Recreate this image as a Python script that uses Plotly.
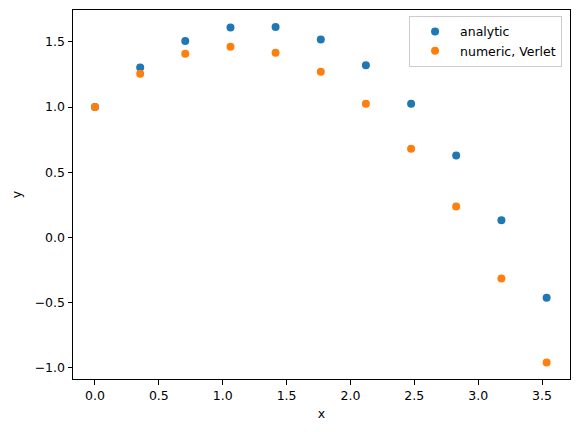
import plotly.graph_objects as go

x_vals = [0.0, 0.354, 0.707, 1.061, 1.414, 1.768, 2.121, 2.475, 2.828, 3.182, 3.536]
y_analytic = [1.0, 1.304, 1.507, 1.611, 1.614, 1.518, 1.321, 1.025, 0.628, 0.132, -0.464]
y_verlet = [1.0, 1.255, 1.409, 1.463, 1.416, 1.271, 1.025, 0.680, 0.236, -0.316, -0.960]
x_ticks = [0.0, 0.5, 1.0, 1.5, 2.0, 2.5, 3.0, 3.5]
y_ticks = [-1.0, -0.5, 0.0, 0.5, 1.0, 1.5]

fig = go.Figure()
fig.add_trace(go.Scatter(x=x_vals, y=y_analytic, mode="markers", name="analytic",
                         marker=dict(color="#1f77b4", size=8)))
fig.add_trace(go.Scatter(x=x_vals, y=y_verlet, mode="markers", name="numeric, Verlet",
                         marker=dict(color="#ff7f0e", size=8)))

font = dict(family="DejaVu Sans", size=12.5, color="black")
axis_common = dict(showgrid=False, zeroline=False, showline=True, linecolor="black",
                   linewidth=1, mirror=True, ticks="outside", ticklen=4.5,
                   tickcolor="black", tickfont=font)
fig.update_xaxes(range=[-0.172, 3.719], tickvals=x_ticks,
                 ticktext=[f"{v:.1f}" for v in x_ticks],
                 title=dict(text="x", font=font, standoff=7), **axis_common)
fig.update_yaxes(range=[-1.087, 1.745], tickvals=y_ticks,
                 ticktext=[f"{v:.1f}".replace("-", "\u2212") for v in y_ticks],
                 title=dict(text="y", font=font, standoff=10), **axis_common)
fig.update_layout(width=578, height=432, margin=dict(l=73, r=8, t=10, b=53),
                  plot_bgcolor="white", paper_bgcolor="white", font=font,
                  legend=dict(x=0.984, y=0.984, xanchor="right", yanchor="top",
                              bordercolor="#cccccc", borderwidth=1, bgcolor="white",
                              font=font, itemwidth=40, tracegroupgap=0))
fig.write_html("out.html")
